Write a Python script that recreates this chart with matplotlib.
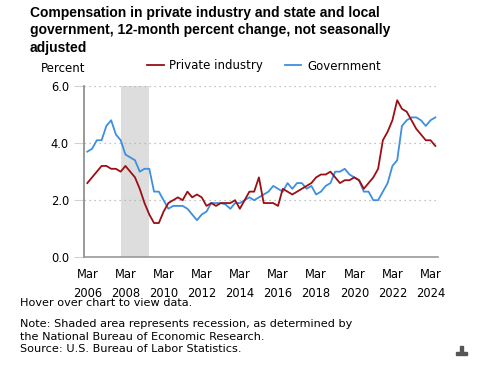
import numpy as np
import matplotlib
matplotlib.use('Agg')
import matplotlib.pyplot as plt
from matplotlib.patches import Rectangle

# Trimestres de Mar 2006 a Jun 2024 (índice 0..73)
trimestres = np.arange(74)
etiquetas_x = ['Mar\n%d' % anio for anio in range(2006, 2025, 2)]
posiciones_x = np.arange(0, 74, 8)

privada = [2.6, 2.8, 3.0, 3.2, 3.2, 3.1, 3.1, 3.0, 3.2, 3.0,
           2.8, 2.4, 1.9, 1.5, 1.2, 1.2, 1.6, 1.9, 2.0, 2.1,
           2.0, 2.3, 2.1, 2.2, 2.1, 1.8, 1.9, 1.8, 1.9, 1.9,
           1.9, 2.0, 1.7, 2.0, 2.3, 2.3, 2.8, 1.9, 1.9, 1.9,
           1.8, 2.4, 2.3, 2.2, 2.3, 2.4, 2.5, 2.6, 2.8, 2.9,
           2.9, 3.0, 2.8, 2.6, 2.7, 2.7, 2.8, 2.7, 2.4, 2.6,
           2.8, 3.1, 4.1, 4.4, 4.8, 5.5, 5.2, 5.1, 4.8, 4.5,
           4.3, 4.1, 4.1, 3.9]

gobierno = [3.7, 3.8, 4.1, 4.1, 4.6, 4.8, 4.3, 4.1, 3.6, 3.5,
            3.4, 3.0, 3.1, 3.1, 2.3, 2.3, 2.0, 1.7, 1.8, 1.8,
            1.8, 1.7, 1.5, 1.3, 1.5, 1.6, 1.9, 1.9, 1.9, 1.85,
            1.7, 1.9, 1.9, 2.0, 2.1, 2.0, 2.1, 2.2, 2.3, 2.5,
            2.4, 2.3, 2.6, 2.4, 2.6, 2.6, 2.4, 2.5, 2.2, 2.3,
            2.5, 2.6, 3.0, 3.0, 3.1, 2.9, 2.8, 2.7, 2.3, 2.3,
            2.0, 2.0, 2.3, 2.6, 3.2, 3.4, 4.6, 4.8, 4.9, 4.9,
            4.8, 4.6, 4.8, 4.9]

# Recesión: Dic 2007 a Jun 2009
recesion = (7, 13)

rojo = '#9b0f14'
azul = '#3d8fe0'

W, H = 483, 369
fig = plt.figure(figsize=(W / 100, H / 100), dpi=100)
ax = fig.add_axes([84.3 / W, 1 - 257.3 / H, (437.7 - 84.3) / W, (257.3 - 86) / H])

ax.axvspan(recesion[0], recesion[1], color='#dddddd', lw=0, zorder=0)
ax.plot(trimestres, privada, color=rojo, lw=1.3, label='Private industry', zorder=3)
ax.plot(trimestres, gobierno, color=azul, lw=1.3, label='Government', zorder=2)

ax.set_xlim(-0.63, 73.5)
ax.set_ylim(0, 6)
ax.set_yticks([0, 2, 4, 6])
ax.set_yticklabels(['0.0', '2.0', '4.0', '6.0'])
ax.set_xticks(posiciones_x)
ax.set_xticklabels(etiquetas_x)
for etiqueta in ax.get_xticklabels():
    etiqueta.set_linespacing(1.55)

ax.tick_params(axis='x', length=0, pad=8, labelsize=8.3, colors='#000000')
ax.tick_params(axis='y', length=7, width=0.8, color='#c8d4e3', pad=4, labelsize=8.3)
ax.grid(axis='y', color='#b0b0b0', linestyle=(0, (1, 3)), lw=0.9)
ax.set_axisbelow(True)
for lado in ['top', 'right']:
    ax.spines[lado].set_visible(False)
ax.spines['left'].set_color('#888888')
ax.spines['bottom'].set_color('#999999')
ax.spines['left'].set_linewidth(1.2)
ax.spines['bottom'].set_linewidth(1.2)

# Título
fig.text(30 / W, 1 - 6 / H,
         'Compensation in private industry and state and local\n'
         'government, 12-month percent change, not seasonally\nadjusted',
         fontsize=10, fontweight='bold', family='Liberation Sans', va='top', ha='left',
         linespacing=1.3)

fig.text(41 / W, 1 - 68 / H, 'Percent', fontsize=8.5, va='center', ha='left')

fig.legend(loc='center left', bbox_to_anchor=(147 / W, 1 - 66 / H), ncol=2, frameon=False,
           fontsize=8.5, handlelength=1.4, handletextpad=0.5, columnspacing=1.8,
           borderpad=0, borderaxespad=0)

# Notas
notas = [(303, 'Hover over chart to view data.'),
         (324, 'Note: Shaded area represents recession, as determined by'),
         (336.5, 'the National Bureau of Economic Research.'),
         (349, 'Source: U.S. Bureau of Labor Statistics.')]
for y, texto in notas:
    fig.text(20.5 / W, 1 - y / H, texto, fontsize=8.1, va='center', ha='left')

# Icono de descarga
fig.patches.append(Rectangle((456 / W, 1 - 355 / H), 11 / W, 3 / H,
                             transform=fig.transFigure, color='#555555'))
fig.patches.append(Rectangle((460 / W, 1 - 352 / H), 3 / W, 6 / H,
                             transform=fig.transFigure, color='#555555'))

fig.savefig('out.png', dpi=100)
